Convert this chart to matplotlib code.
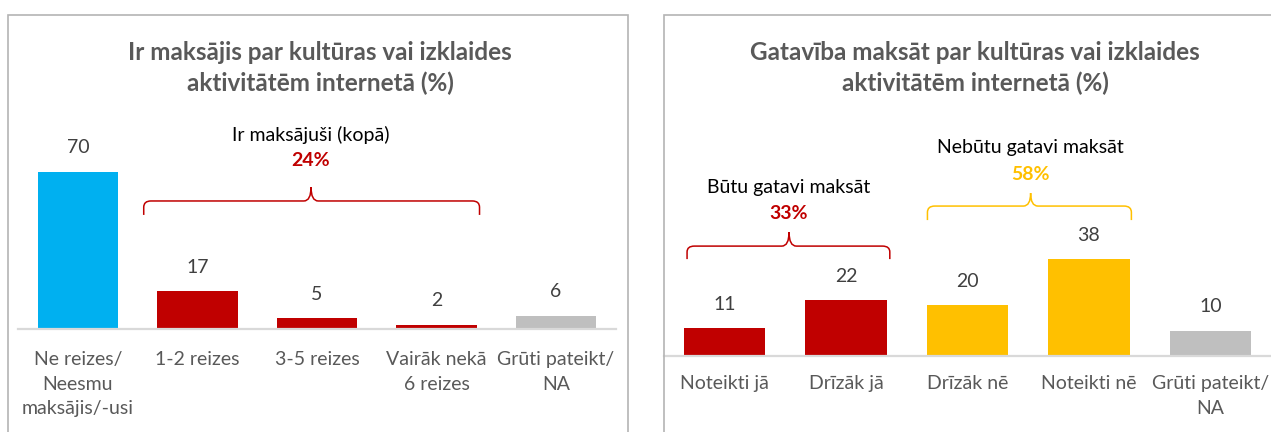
import matplotlib

matplotlib.use("Agg")
import matplotlib.pyplot as plt
from matplotlib.patches import Rectangle, PathPatch
from matplotlib.path import Path

plt.rcParams["font.family"] = ["Lato", "DejaVu Sans"]

# left chart: how often people have paid
paid_labels = ["Ne reizes/\nNeesmu\nmaksājis/-usi", "1-2 reizes", "3-5 reizes",
               "Vairāk nekā\n6 reizes", "Grūti pateikt/\nNA"]
paid_values = [70, 17, 5, 2, 6]
paid_total = 24

# right chart: willingness to pay
ready_labels = ["Noteikti jā", "Drīzāk jā", "Drīzāk nē", "Noteikti nē", "Grūti pateikt/\nNA"]
ready_values = [11, 22, 20, 38, 10]
ready_yes = 33
ready_no = 58

BLUE = "#00B0F0"
RED = "#C00000"
YELLOW = "#FFC000"
GRAY = "#BFBFBF"
TEXT = "#595959"
VALUE = "#404040"

W, H = 1271, 432
fig = plt.figure(figsize=(W / 100, H / 100), dpi=100)


def px_rect(x0, y_top, x1, y_bottom):
    """Figure-fraction rectangle from pixel coords (y measured from top)."""
    return [x0 / W, 1 - y_bottom / H, (x1 - x0) / W, (y_bottom - y_top) / H]


def brace(ax, x0, x1, xm, y_end, y_mid, y_tip, color):
    """Curly bracket opening downwards, like the Excel shape."""
    rx = 0.06
    dy = (y_mid - y_end) * 0.45
    verts = [
        (x0, y_end), (x0, y_mid - dy),
        (x0, y_mid), (x0 + rx, y_mid),
        (xm - rx, y_mid),
        (xm, y_mid), (xm, y_tip),
        (xm, y_mid), (xm + rx, y_mid),
        (x1 - rx, y_mid),
        (x1, y_mid), (x1, y_mid - dy),
        (x1, y_end),
    ]
    codes = [Path.MOVETO, Path.LINETO,
             Path.CURVE3, Path.CURVE3,
             Path.LINETO,
             Path.CURVE3, Path.CURVE3,
             Path.CURVE3, Path.CURVE3,
             Path.LINETO,
             Path.CURVE3, Path.CURVE3,
             Path.LINETO]
    ax.add_patch(PathPatch(Path(verts, codes), fill=False, ec=color, lw=1.1,
                           clip_on=False))


def bar_panel(ax, labels, values, colors, ymax, pad):
    x = range(len(values))
    ax.bar(x, values, width=0.67, color=colors)
    for i, v in enumerate(values):
        ax.annotate(str(v), (i, v), xytext=(0, 17), textcoords="offset points",
                    ha="center", va="center", fontsize=14, color=VALUE)
    ax.set_xlim(-0.5, len(values) - 0.5)
    ax.set_ylim(0, ymax)
    ax.axhline(0, color="#D9D9D9", lw=1.6, clip_on=False)
    for s in ax.spines.values():
        s.set_visible(False)
    ax.set_yticks([])
    ax.set_xticks(list(x), labels)
    ax.tick_params(axis="x", length=0, pad=pad, labelsize=14, labelcolor=TEXT)
    for lbl in ax.get_xticklabels():
        lbl.set_linespacing(1.52)
    ax.patch.set_alpha(0)


# panel frames
fig.add_artist(Rectangle((8 / W, -0.1), 620 / W, 1.1 - 15 / H,
                         transform=fig.transFigure, fill=False, ec="#B4B4B4", lw=1.2))
fig.add_artist(Rectangle((664 / W, -0.1), 640 / W, 1.1 - 15 / H,
                         transform=fig.transFigure, fill=False, ec="#B4B4B4", lw=1.2))

# titles
fig.text(320 / W, 1 - 68 / H, "Ir maksājis par kultūras vai izklaides\naktivitātēm internetā (%)",
         ha="center", va="center", fontsize=17.5, fontweight="bold", color=TEXT,
         linespacing=1.42)
fig.text(975 / W, 1 - 68 / H, "Gatavība maksāt par kultūras vai izklaides\naktivitātēm internetā (%)",
         ha="center", va="center", fontsize=17.5, fontweight="bold", color=TEXT,
         linespacing=1.42)

# left chart
ax1 = fig.add_axes(px_rect(18.25, 329 - 95 * 2.25, 615.75, 329))
bar_panel(ax1, paid_labels, paid_values, [BLUE, RED, RED, RED, GRAY], 95, pad=16)
brace(ax1, 0.55, 3.36, 1.95, 50.7, 56.9, 63.1, RED)
ax1.text(1.95, 86.2, "Ir maksājuši (kopā)", ha="center", va="center", fontsize=14, color="black")
ax1.text(1.95, 74.7, f"{paid_total}%", ha="center", va="center", fontsize=14,
         fontweight="bold", color=RED)

# right chart
ax2 = fig.add_axes(px_rect(664, 356 - 90 * 2.55, 1271, 356))
bar_panel(ax2, ready_labels, ready_values, [RED, RED, YELLOW, YELLOW, GRAY], 90, pad=14)
brace(ax2, -0.31, 1.36, 0.53, 38.0, 43.1, 48.6, RED)
brace(ax2, 1.67, 3.35, 2.52, 53.3, 58.8, 63.9, YELLOW)
ax2.text(0.53, 65.9, "Būtu gatavi maksāt", ha="center", va="center", fontsize=14, color="black")
ax2.text(0.53, 55.7, f"{ready_yes}%", ha="center", va="center", fontsize=14,
         fontweight="bold", color=RED)
ax2.text(2.52, 81.6, "Nebūtu gatavi maksāt", ha="center", va="center", fontsize=14, color="black")
ax2.text(2.52, 71.0, f"{ready_no}%", ha="center", va="center", fontsize=14,
         fontweight="bold", color=YELLOW)

fig.savefig("out.png", dpi=100)
